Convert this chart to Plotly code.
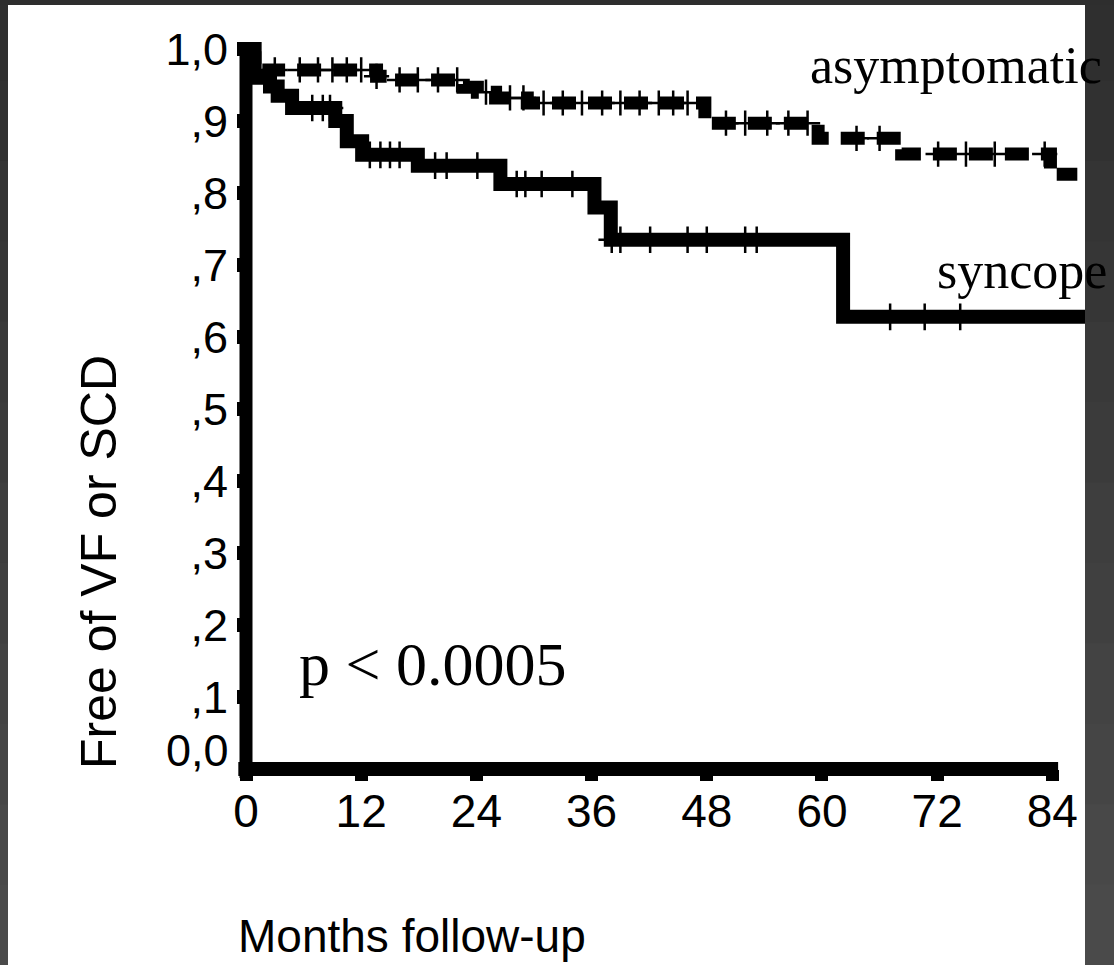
import plotly.graph_objects as go

# ---------------- data ----------------
syncope_t = [0, 0.9, 2.5, 3.3, 4.8, 9.3, 10.5, 12.1, 17.9, 26.5, 36.3, 38.0, 62.2, 87.6]
syncope_s = [1.0, 0.96, 0.948, 0.935, 0.918, 0.90, 0.872, 0.853, 0.838, 0.8125, 0.78, 0.735, 0.628, 0.628]
syncope_censored = [6.9, 8.0, 8.75, 12.9, 14.0, 15.0, 16.0, 19.7, 20.9, 24.1, 28.2, 29.1,
                    30.8, 34.0, 38.1, 39.0, 42.1, 46.0, 48.0, 52.0, 53.2, 67.1, 70.7, 74.4]

asym_t = [0, 0.8, 1.7, 13.6, 14.8, 22.6, 24.1, 26.0, 29.3, 47.8, 59.6, 68.3, 83.8, 86.6]
asym_s = [1.0, 0.988, 0.971, 0.962, 0.957, 0.947, 0.940, 0.932, 0.925, 0.897, 0.876, 0.854, 0.826, 0.826]
asym_censored = [3.0, 5.6, 7.5, 9.0, 10.5, 12.0, 13.6, 16.0, 17.9, 20.0, 22.0, 25.0, 27.5, 28.9,
                 31.0, 33.0, 35.0, 37.1, 39.0, 41.0, 43.0, 44.5, 46.0, 50.0, 52.0, 54.3, 56.5,
                 58.5, 63.6, 66.0, 72.1, 75.0, 78.0, 83.2]

x_ticks = [0, 12, 24, 36, 48, 60, 72, 84]
y_ticks = [0.1, 0.2, 0.3, 0.4, 0.5, 0.6, 0.7, 0.8, 0.9, 1.0]
y_ticktext = [",1", ",2", ",3", ",4", ",5", ",6", ",7", ",8", ",9", "1,0"]
zero_label = "0,0"

x_title = "Months follow-up"
y_title = "Free of VF or SCD"
label_asym = "asymptomatic"
label_sync = "syncope"
p_text = "p < 0.0005"


def step_value(times, surv, c):
    v = surv[0]
    for t, s in zip(times, surv):
        if t <= c:
            v = s
    return v


# ---------------- layout geometry ----------------
W, H = 1114, 965
L, R, T, B = 234, 1085, 40, 785
XMIN, XMAX = -1.25, 87.4
YMIN, YMAX = -0.0222, 1.0125


def px_to_paper_x(px):
    return (px - L) / (R - L)


def px_to_paper_y(py):
    return (B - py) / (B - T)


sans = "Liberation Sans, Arial, sans-serif"
serif = "Liberation Serif, Times New Roman, serif"

fig = go.Figure()

fig.add_trace(go.Scatter(x=syncope_t, y=syncope_s, mode="lines", line_shape="hv",
                         line=dict(color="black", width=14), showlegend=False))
fig.add_trace(go.Scatter(x=asym_t, y=asym_s, mode="lines", line_shape="hv",
                         line=dict(color="black", width=13, dash="24px,12px"), showlegend=False))

fig.add_trace(go.Scatter(x=syncope_censored,
                         y=[step_value(syncope_t, syncope_s, c) for c in syncope_censored],
                         mode="markers", cliponaxis=False,
                         marker=dict(symbol="cross-thin", size=19, line=dict(color="black", width=2.5)),
                         showlegend=False))
fig.add_trace(go.Scatter(x=asym_censored,
                         y=[step_value(asym_t, asym_s, c) for c in asym_censored],
                         mode="markers", cliponaxis=False,
                         marker=dict(symbol="cross-thin", size=18, line=dict(color="black", width=2.5)),
                         showlegend=False))

shapes = []
# axis lines
shapes.append(dict(type="line", xref="x", yref="y", x0=0, x1=0, y0=-0.0125, y1=1.006,
                   line=dict(color="black", width=13), layer="above"))
shapes.append(dict(type="line", xref="x", yref="y", x0=-0.8, x1=84.6, y0=0, y1=0,
                   line=dict(color="black", width=14), layer="above"))

# dark frame bands (gradient approximated by overlapping slices)
n = 12
for i in range(n):
    y0p = H * i / n
    y1p = min(H, H * (i + 1) / n + 2)
    g = int(0x2e + (0x4c - 0x2e) * (i + 0.5) / n)
    col = "#%02x%02x%02x" % (g, g, g)
    for (xa, xb) in [(0, 8), (1085, W)]:
        shapes.append(dict(type="rect", xref="paper", yref="paper",
                           x0=px_to_paper_x(xa), x1=px_to_paper_x(xb),
                           y0=px_to_paper_y(y1p), y1=px_to_paper_y(y0p),
                           fillcolor=col, line=dict(width=0), layer="above"))
shapes.append(dict(type="rect", xref="paper", yref="paper",
                   x0=px_to_paper_x(0), x1=px_to_paper_x(W),
                   y0=px_to_paper_y(5), y1=px_to_paper_y(0),
                   fillcolor="#2e2e2e", line=dict(width=0), layer="above"))

annotations = [
    dict(text=label_asym, x=58.5, y=0.977, xref="x", yref="y", xanchor="left", yanchor="middle",
         showarrow=False, font=dict(family=serif, size=52, color="black")),
    dict(text=label_sync, x=71.8, y=0.692, xref="x", yref="y", xanchor="left", yanchor="middle",
         showarrow=False, font=dict(family=serif, size=52, color="black")),
    dict(text=p_text, x=5.3, y=0.146, xref="x", yref="y", xanchor="left", yanchor="middle",
         showarrow=False, font=dict(family=serif, size=62, color="black")),
    dict(text=zero_label, x=px_to_paper_x(231), y=px_to_paper_y(750), xref="paper", yref="paper",
         xanchor="right", yanchor="middle",
         showarrow=False, font=dict(family=sans, size=45, color="black")),
    dict(text=y_title, x=px_to_paper_x(99), y=px_to_paper_y(562), xref="paper", yref="paper",
         xanchor="center", yanchor="middle",
         textangle=-90, showarrow=False, font=dict(family=sans, size=50, color="black")),
    dict(text=x_title, x=px_to_paper_x(412), y=px_to_paper_y(936), xref="paper", yref="paper",
         xanchor="center", yanchor="middle",
         showarrow=False, font=dict(family=sans, size=46, color="black")),
]

fig.update_layout(
    width=W, height=H,
    margin=dict(l=L, r=W - R, t=T, b=H - B, pad=0),
    paper_bgcolor="white", plot_bgcolor="white",
    showlegend=False,
    hovermode=False,
    shapes=shapes,
    annotations=annotations,
    xaxis=dict(range=[XMIN, XMAX], anchor="free", position=(B - 769) / (B - T),
               tickvals=x_ticks, ticktext=[str(v) for v in x_ticks],
               ticks="outside", ticklen=11, tickwidth=13, tickcolor="black",
               ticklabelstandoff=-9,
               showgrid=False, zeroline=False, showline=False,
               tickfont=dict(family=sans, size=46, color="black")),
    yaxis=dict(range=[YMIN, YMAX], anchor="free", position=(246 - L) / (R - L),
               tickvals=y_ticks, ticktext=y_ticktext,
               ticks="outside", ticklen=9, tickwidth=14, tickcolor="black",
               showgrid=False, zeroline=False, showline=False,
               tickfont=dict(family=sans, size=45, color="black")),
)

fig.write_html("out.html", config={"displayModeBar": False},
               post_script="document.body.style.margin='0px';document.body.style.overflow='hidden';")
